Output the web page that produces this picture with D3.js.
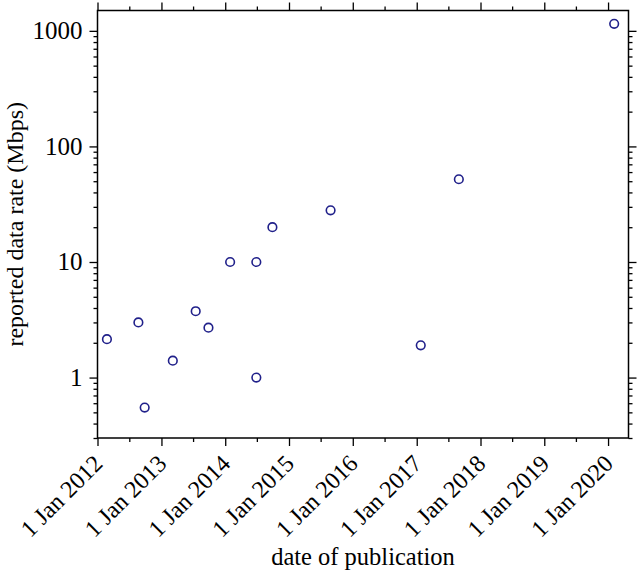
<!DOCTYPE html>
<html>
<head>
<meta charset="utf-8">
<script src="https://cdn.jsdelivr.net/npm/d3@7"></script>
<style>
  html, body { margin: 0; padding: 0; background: #fff; }
  svg { display: block; }
</style>
</head>
<body>
<svg id="chart" width="640" height="571"></svg>
<script>
// ---- data ----
const pubDates = [
  "2012-02-24", "2012-08-22", "2012-09-27", "2013-03-07", "2013-07-16",
  "2013-09-27", "2014-01-29", "2014-06-28", "2014-06-28", "2014-09-28",
  "2015-08-27", "2017-01-24", "2017-08-30", "2020-02-05"
];
const dataRates = [2.15, 3.0, 0.55, 1.4, 3.75, 2.7, 10, 10, 1.0, 20, 28, 1.9, 52, 1150];
const xTickYears = [2012, 2013, 2014, 2015, 2016, 2017, 2018, 2019, 2020];
const yTickValues = [1, 10, 100, 1000];
const xDomain = ["2012-01-01", "2020-04-27"];
const yDomain = [0.3, 1500];
const xTitle = "date of publication";
const yTitle = "reported data rate (Mbps)";

// ---- layout ----
const W = 640, H = 571;
const FONT = "'Liberation Serif', 'Times New Roman', serif";
const m = { left: 97.5, top: 10.5, right: 11.5, bottom: 133 };
const iw = W - m.left - m.right, ih = H - m.top - m.bottom;
const parse = d3.utcParse("%Y-%m-%d");

const svg = d3.select("#chart");
const g = svg.append("g").attr("transform", `translate(${m.left},${m.top})`);

const x = d3.scaleUtc().domain(xDomain.map(parse)).range([0, iw]);
const y = d3.scaleLog().domain(yDomain).range([ih, 0]);

const majorX = xTickYears.map(yr => new Date(Date.UTC(yr, 0, 1)));
const minorX = xTickYears.map(yr => new Date(Date.UTC(yr, 6, 1))).filter(d => d <= x.domain()[1]);
const minorY = [];
for (let e = -1; e <= 3; e++) for (let k = 2; k <= 9; k++) {
  const v = k * Math.pow(10, e);
  if (v >= yDomain[0] && v <= yDomain[1]) minorY.push(v);
}

const majLen = 8, minLen = 4;
function styleAxis(sel) {
  sel.select(".domain").remove();
  sel.attr("font-family", FONT);
  sel.selectAll("line").attr("stroke", "#000").attr("stroke-width", 1.3);
  sel.selectAll("text").attr("fill", "#000");
}

// minor ticks
g.append("g").attr("transform", `translate(0,${ih})`)
  .call(d3.axisBottom(x).tickValues(minorX).tickSize(minLen).tickFormat(""))
  .call(styleAxis);
g.append("g")
  .call(d3.axisTop(x).tickValues(minorX).tickSize(minLen).tickFormat(""))
  .call(styleAxis);
g.append("g")
  .call(d3.axisLeft(y).tickValues(minorY).tickSize(minLen).tickFormat(""))
  .call(styleAxis);
g.append("g").attr("transform", `translate(${iw},0)`)
  .call(d3.axisRight(y).tickValues(minorY).tickSize(minLen).tickFormat(""))
  .call(styleAxis);

// major ticks
const xb = g.append("g").attr("transform", `translate(0,${ih})`)
  .call(d3.axisBottom(x).tickValues(majorX).tickSize(majLen)
    .tickFormat(d => "1 Jan " + d.getUTCFullYear()))
  .call(styleAxis);
xb.selectAll("text")
  .attr("font-size", 24)
  .attr("text-anchor", "end")
  .attr("dy", null)
  .attr("y", null)
  .attr("transform", "translate(6,27) rotate(-45)");

g.append("g")
  .call(d3.axisTop(x).tickValues(majorX).tickSize(majLen).tickFormat(""))
  .call(styleAxis);

const yl = g.append("g")
  .call(d3.axisLeft(y).tickValues(yTickValues).tickSize(majLen).tickPadding(7)
    .tickFormat(d3.format("d")))
  .call(styleAxis);
yl.selectAll("text").attr("font-size", 25);

g.append("g").attr("transform", `translate(${iw},0)`)
  .call(d3.axisRight(y).tickValues(yTickValues).tickSize(majLen).tickFormat(""))
  .call(styleAxis);

// frame
g.append("rect").attr("x", 0).attr("y", 0).attr("width", iw).attr("height", ih)
  .attr("fill", "none").attr("stroke", "#000").attr("stroke-width", 1.5);

// points
g.append("g").selectAll("circle")
  .data(pubDates.map((d, i) => ({ date: parse(d), v: dataRates[i] })))
  .join("circle")
  .attr("cx", d => x(d.date))
  .attr("cy", d => y(d.v))
  .attr("r", 4.3)
  .attr("fill", "none")
  .attr("stroke", "#20208a")
  .attr("stroke-width", 1.6);

// titles
svg.append("text")
  .attr("x", m.left + iw / 2).attr("y", 565)
  .attr("text-anchor", "middle").attr("font-size", 24.5)
  .attr("font-family", FONT).attr("fill", "#000")
  .text(xTitle);
svg.append("text")
  .attr("transform", `translate(23,${m.top + ih / 2}) rotate(-90)`)
  .attr("text-anchor", "middle").attr("font-size", 24)
  .attr("font-family", FONT).attr("fill", "#000")
  .text(yTitle);
</script>
</body>
</html>
